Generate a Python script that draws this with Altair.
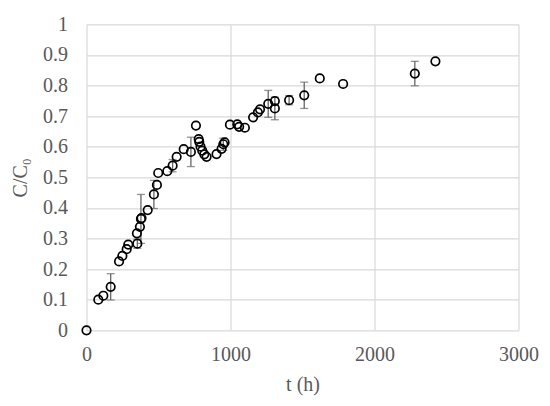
import altair as alt
import pandas as pd

t_h = [0, 82, 117, 168, 226, 249, 279, 290, 350, 353, 371, 378, 382, 425, 468,
       489, 498, 561, 598, 626, 675, 725, 760, 779, 783, 792, 804, 818, 834,
       903, 938, 950, 959, 996, 1047, 1060, 1100, 1157, 1190, 1205, 1262, 1308,
       1308, 1407, 1512, 1620, 1782, 2280, 2423]
c_c0 = [0, 0.100, 0.113, 0.142, 0.225, 0.243, 0.265, 0.280, 0.317, 0.283, 0.338,
        0.364, 0.367, 0.393, 0.444, 0.475, 0.514, 0.520, 0.538, 0.567, 0.592,
        0.583, 0.669, 0.625, 0.616, 0.600, 0.587, 0.575, 0.567, 0.576, 0.593,
        0.608, 0.614, 0.672, 0.673, 0.665, 0.662, 0.696, 0.712, 0.722, 0.740,
        0.749, 0.725, 0.752, 0.768, 0.823, 0.805, 0.839, 0.879]

err_t = [168, 353, 378, 468, 598, 725, 950, 1262, 1308, 1407, 1512, 2280]
err_c = [0.142, 0.283, 0.364, 0.444, 0.538, 0.583, 0.608, 0.740, 0.725, 0.752, 0.768, 0.839]
err_d = [0.043, 0.015, 0.080, 0.046, 0.020, 0.048, 0.020, 0.044, 0.037, 0.015, 0.043, 0.040]

x_ticks = [0, 1000, 2000, 3000]
y_ticks = [0, 0.1, 0.2, 0.3, 0.4, 0.5, 0.6, 0.7, 0.8, 0.9, 1.0]

pts = pd.DataFrame({"t": t_h, "c": c_c0})
errs = pd.DataFrame({"t": err_t, "c": err_c, "d": err_d})
errs["lo"] = errs["c"] - errs["d"]
errs["hi"] = errs["c"] + errs["d"]

FONT = "Liberation Serif"
GREY = "#595959"
BAR = "#666666"

xs = alt.Scale(domain=[0, 3000], nice=False, zero=True)
ys = alt.Scale(domain=[0, 1], nice=False, zero=True)

common = dict(grid=True, domain=False, ticks=False, labelOverlap=False, labelFlush=False,
              labelFont=FONT, titleFont=FONT, labelFontSize=20, titleFontSize=20,
              labelColor=GREY, titleColor=GREY, titleFontWeight="normal",
              gridColor="#d9d9d9", gridWidth=1.2)
x_axis = alt.Axis(values=x_ticks, title="t (h)", labelPadding=14, titlePadding=10,
                  format="d", **common)
y_axis = alt.Axis(values=y_ticks, title="C/C₀", labelPadding=19, titlePadding=12,
                  format=".1~f", **common)


def X(field):
    return alt.X(field, type="quantitative", scale=xs, axis=x_axis)


def Y(field):
    return alt.Y(field, type="quantitative", scale=ys, axis=y_axis)


rules = alt.Chart(errs).mark_rule(color=BAR, strokeWidth=1.3).encode(
    x=X("t"), y=Y("lo"), y2="hi"
)
cap_lo = alt.Chart(errs).mark_tick(color=BAR, orient="horizontal", size=8, thickness=1.3).encode(
    x=X("t"), y=Y("lo")
)
cap_hi = alt.Chart(errs).mark_tick(color=BAR, orient="horizontal", size=8, thickness=1.3).encode(
    x=X("t"), y=Y("hi")
)
points = alt.Chart(pts).mark_point(shape="circle", filled=False, color="black",
                                   strokeWidth=1.7, size=72, opacity=1).encode(
    x=X("t"), y=Y("c")
)

chart = alt.layer(rules, cap_lo, cap_hi, points).properties(
    width=432, height=306,
    autosize=alt.AutoSizeParams(type="none"),
    padding={"left": 78.5, "top": 16.3, "right": 20, "bottom": 75},
).configure_view(stroke=None)

chart.save("out.html", embed_options={"renderer": "svg", "actions": False})
